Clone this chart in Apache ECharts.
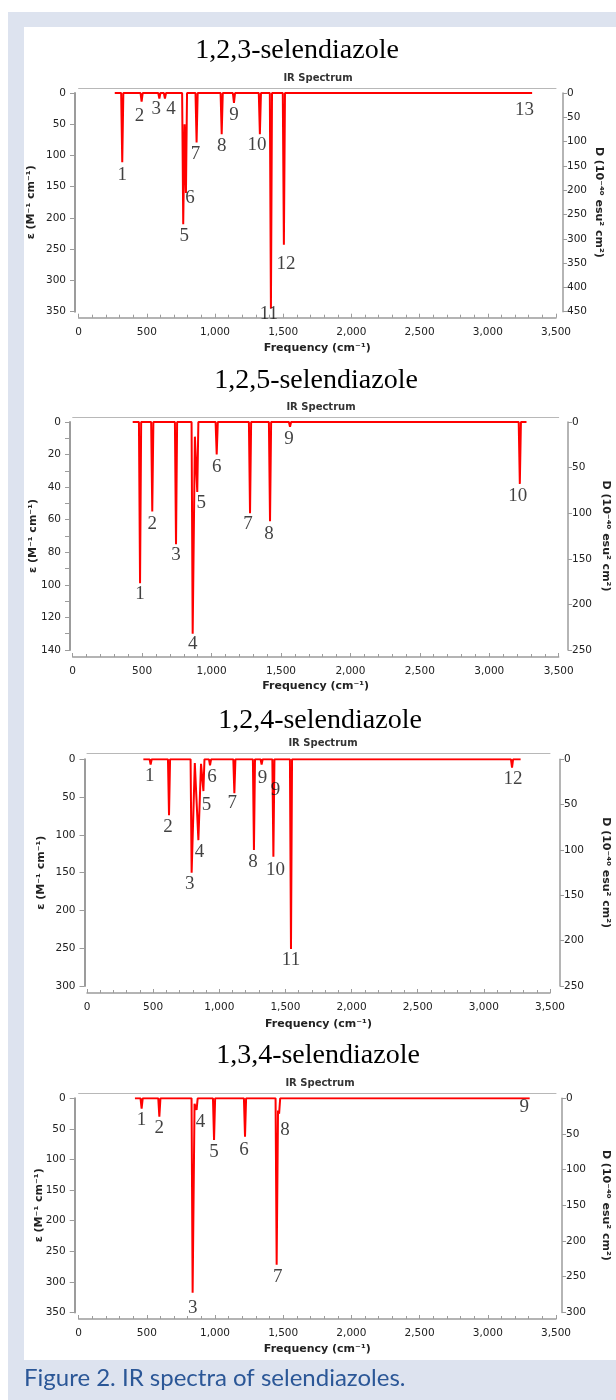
<!DOCTYPE html>
<html>
<head>
<meta charset="utf-8">
<title>IR spectra of selendiazoles</title>
<script src="https://cdn.jsdelivr.net/npm/echarts@6/dist/echarts.min.js"></script>
<style>
  html, body { margin: 0; padding: 0; background: #fff; }
  #chart { width: 616px; height: 1400px; }
</style>
</head>
<body>
<div id="chart"></div>
<script>
// compound names, one panel each
const names = ['1,2,3-selendiazole', '1,2,5-selendiazole', '1,2,4-selendiazole', '1,3,4-selendiazole'];

// 1,2,3-selendiazole: peak frequencies (cm-1) and epsilon at each peak
const freq123 = [320, 462, 592, 633, 767, 787, 865, 1049, 1139, 1329, 1410, 1505, 3262];
const eps123 = [111, 14, 9, 9, 210, 160, 79, 66, 16, 66, 345, 243, 3];
const valIdx123 = [4];      // valley after peak index
const valFreq123 = [777];
const valEps123 = [50];
const range123 = [265, 3325];
const text123 = ['1', '2', '3', '4', '5', '6', '7', '8', '9', '10', '11', '12', '13'];
const peakOf123 = [0, 1, 2, 3, 4, 5, 6, 7, 8, 9, 10, 11, 12];

// 1,2,5-selendiazole
const freq125 = [485, 573, 744, 864, 897, 1037, 1277, 1421, 1565, 3220];
const eps125 = [99, 55, 75, 130, 43, 20, 56, 61, 3, 38];
const valIdx125 = [3];
const valFreq125 = [880];
const valEps125 = [9];
const range125 = [432, 3268];
const text125 = ['1', '2', '3', '4', '5', '6', '7', '8', '9', '10'];
const peakOf125 = [0, 1, 2, 3, 4, 5, 6, 7, 8, 9];

// 1,2,4-selendiazole
const freq124 = [481, 620, 791, 842, 880, 930, 1114, 1262, 1320, 1409, 1542, 3213];
const eps124 = [7, 74, 150, 107, 42, 8, 45, 120, 7, 129, 251, 11];
const valIdx124 = [2, 3];
const valFreq124 = [815, 862];
const valEps124 = [5, 6];
const range124 = [426, 3278];
const text124 = ['1', '2', '3', '4', '5', '6', '7', '8', '9', '9', '10', '11', '12'];
const peakOf124 = [0, 1, 2, 3, 4, 5, 6, 7, 8, 9, 9, 10, 11];

// 1,3,4-selendiazole
const freq134 = [462, 592, 836, 865, 993, 1220, 1452, 1470, 3268];
const eps134 = [17, 30, 318, 19, 68, 63, 272, 25, 2];
const valIdx134 = [2, 6];
const valFreq134 = [850, 1462];
const valEps134 = [9, 20];
const range134 = [413, 3307];
const text134 = ['1', '2', '3', '4', '5', '6', '7', '8', '9'];
const peakOf134 = [0, 1, 2, 3, 4, 5, 6, 7, 8];

// axis ranges
const epsMax = [350, 140, 300, 350];
const epsStep = [50, 20, 50, 50];
const dMax = [450, 250, 250, 300];

// layout (pixels)
const layout = [
  { left: 78.6, width: 477.4, top: 93, height: 218.7, yOff: 3.6, rOff: 7, xOff: 6, tOff: 5, gapL: 38, gapR: 30, gapX: 25, tx: 297, ty: 51, sx: 318, sy: 78,
    off: [[0,13],[-2,14],[-3,10],[6,10],[1,12],[4,5],[-1,12],[0,12],[0,12],[-3,11],[-2,5],[2,19],[1,15]] },
  { left: 72.7, width: 486, top: 422, height: 228, yOff: 2.7, rOff: 9.3, xOff: 7, tOff: 5, gapL: 31.5, gapR: 32, gapX: 24, tx: 316, ty: 381, sx: 321, sy: 407,
    off: [[0,11],[0,12],[0,11],[0,10],[4,11],[0,12],[-2,11],[-1,13],[-1,12],[-2,12]] },
  { left: 87, width: 463, top: 759.3, height: 226.7, yOff: 2.5, rOff: 10, xOff: 7, tOff: 6, gapL: 37.5, gapR: 40, gapX: 26, tx: 320, ty: 721, sx: 323, sy: 743,
    off: [[-1,11],[-1,12],[-2,11],[1,12],[3,14],[2,12],[-2,10],[-1,12],[1,13],[2,-67],[2,13],[0,11],[1,11]] },
  { left: 78.6, width: 477.4, top: 1098.3, height: 214.1, yOff: 3.9, rOff: 6, xOff: 6.6, tOff: 5, gapL: 30, gapR: 38, gapX: 25, tx: 318, ty: 1056, sx: 320, sy: 1083,
    off: [[0,11],[0,11],[0,15],[4,12],[0,12],[-1,13],[1,12],[6,16],[0,7]] }
];

const sets = [
  [freq123, eps123, valIdx123, valFreq123, valEps123, range123, text123, peakOf123],
  [freq125, eps125, valIdx125, valFreq125, valEps125, range125, text125, peakOf125],
  [freq124, eps124, valIdx124, valFreq124, valEps124, range124, text124, peakOf124],
  [freq134, eps134, valIdx134, valFreq134, valEps134, range134, text134, peakOf134]
];

const W = 8; // half width of a drawn band, cm-1

// line points: baseline, then each band down to its peak and back
function spectrum(freq, eps, vIdx, vFreq, vEps, range) {
  const pts = [[range[0], 0]];
  for (let i = 0; i < freq.length; i++) {
    const vb = vIdx.indexOf(i - 1);
    if (vb >= 0) pts.push([vFreq[vb], vEps[vb]]);
    else pts.push([freq[i] - W, 0]);
    pts.push([freq[i], eps[i]]);
    if (vIdx.indexOf(i) < 0) pts.push([freq[i] + W, 0]);
  }
  pts.push([range[1], 0]);
  return pts;
}

const axisColor = '#9c9c9c';
const tickFont = { color: '#222', fontSize: 10.5, fontFamily: 'DejaVu Sans' };
const nameFont = { color: '#222', fontSize: 11, fontWeight: 'bold', fontFamily: 'DejaVu Sans' };

const grid = [], xAxis = [], yAxis = [], series = [];
const graphic = [
  { type: 'rect', z: -2, shape: { x: 8, y: 12, width: 608, height: 1388 }, style: { fill: '#dde3ef' } },
  { type: 'rect', z: -1, shape: { x: 24, y: 27, width: 592, height: 1333 }, style: { fill: '#ffffff' } },
  { type: 'text', x: 24, y: 1378, style: { text: 'Figure 2. IR spectra of selendiazoles.', font: '24px Lato', fill: '#2b5797',
    align: 'left', verticalAlign: 'middle', textAlign: 'left', textVerticalAlign: 'middle' } }
];

layout.forEach((L, i) => {
  const [freq, eps, vIdx, vFreq, vEps, range, text, peakOf] = sets[i];

  grid.push({ left: L.left, top: L.top, width: L.width, height: L.height, outerBoundsMode: 'none', containLabel: false });

  // bottom frequency axis
  xAxis.push({
    gridIndex: i, type: 'value', min: 0, max: 3500, interval: 500, position: 'bottom', offset: L.xOff,
    axisLine: { show: true, onZero: false, lineStyle: { color: axisColor, width: 1.5 } },
    axisTick: { show: true, inside: true, length: 4, lineStyle: { color: axisColor } },
    minorTick: { show: true, splitNumber: 5, length: 3, lineStyle: { color: axisColor } },
    splitLine: { show: false }, minorSplitLine: { show: false },
    axisLabel: Object.assign({ margin: 9, formatter: v => v.toLocaleString('en-US') }, tickFont),
    name: 'Frequency (cm\u207B\u00B9)', nameLocation: 'middle', nameGap: L.gapX, nameTextStyle: nameFont
  });
  // top frame line
  xAxis.push({
    gridIndex: i, type: 'value', min: 0, max: 3500, position: 'top', offset: L.tOff,
    axisLine: { show: true, onZero: false, lineStyle: { color: '#b8b8b8', width: 1 } },
    axisTick: { show: false }, axisLabel: { show: false }, splitLine: { show: false }
  });

  yAxis.push({
    gridIndex: i, type: 'value', inverse: true, min: 0, max: epsMax[i], interval: epsStep[i], position: 'left', offset: L.yOff,
    axisLine: { show: true, onZero: false, lineStyle: { color: axisColor, width: 2 } },
    axisTick: { show: true, length: 5, lineStyle: { color: axisColor } },
    minorTick: { show: i === 1, splitNumber: 2, length: 5, lineStyle: { color: axisColor } },
    splitLine: { show: false }, minorSplitLine: { show: false },
    axisLabel: Object.assign({ margin: 9 }, tickFont),
    name: '\u03B5 (M\u207B\u00B9 cm\u207B\u00B9)', nameLocation: 'middle', nameGap: L.gapL, nameRotate: 90,
    nameMoveOverlap: false, nameTextStyle: nameFont
  });
  yAxis.push({
    gridIndex: i, type: 'value', inverse: true, min: 0, max: dMax[i], interval: 50, position: 'right', offset: L.rOff,
    axisLine: { show: true, onZero: false, lineStyle: { color: axisColor, width: 1.5 } },
    axisTick: { show: true, length: 4, lineStyle: { color: axisColor } },
    splitLine: { show: false },
    axisLabel: Object.assign({ margin: 4 }, tickFont),
    name: 'D (10\u207B\u2074\u2070 esu\u00B2 cm\u00B2)', nameLocation: 'middle', nameGap: L.gapR, nameRotate: -90,
    nameMoveOverlap: false, nameTextStyle: nameFont
  });

  series.push({
    type: 'line', xAxisIndex: 2 * i, yAxisIndex: 2 * i,
    data: spectrum(freq, eps, vIdx, vFreq, vEps, range),
    symbol: 'none', lineStyle: { color: '#ff0000', width: 2 }, silent: true, z: 3
  });
  series.push({
    type: 'scatter', xAxisIndex: 2 * i, yAxisIndex: 2 * i, symbolSize: 1, silent: true, z: 5,
    itemStyle: { color: 'rgba(0,0,0,0)' },
    data: text.map((t, k) => ({ name: t, value: [freq[peakOf[k]], eps[peakOf[k]]], label: { offset: L.off[k] } })),
    label: { show: true, position: 'inside', formatter: '{b}', fontFamily: 'Liberation Serif', fontSize: 19, color: '#111' }
  });

  graphic.push({ type: 'text', x: L.tx, y: L.ty, style: { text: names[i], font: '28px "Liberation Serif"', fill: '#000',
    align: 'center', verticalAlign: 'middle', textAlign: 'center', textVerticalAlign: 'middle' } });
  graphic.push({ type: 'text', x: L.sx, y: L.sy, style: { text: 'IR Spectrum', font: 'bold 10px "DejaVu Sans"', fill: '#333',
    align: 'center', verticalAlign: 'middle', textAlign: 'center', textVerticalAlign: 'middle' } });
});

const chart = echarts.init(document.getElementById('chart'));
chart.setOption({
  animation: false,
  grid: grid,
  xAxis: xAxis,
  yAxis: yAxis,
  series: series,
  graphic: graphic
});
</script>
</body>
</html>
